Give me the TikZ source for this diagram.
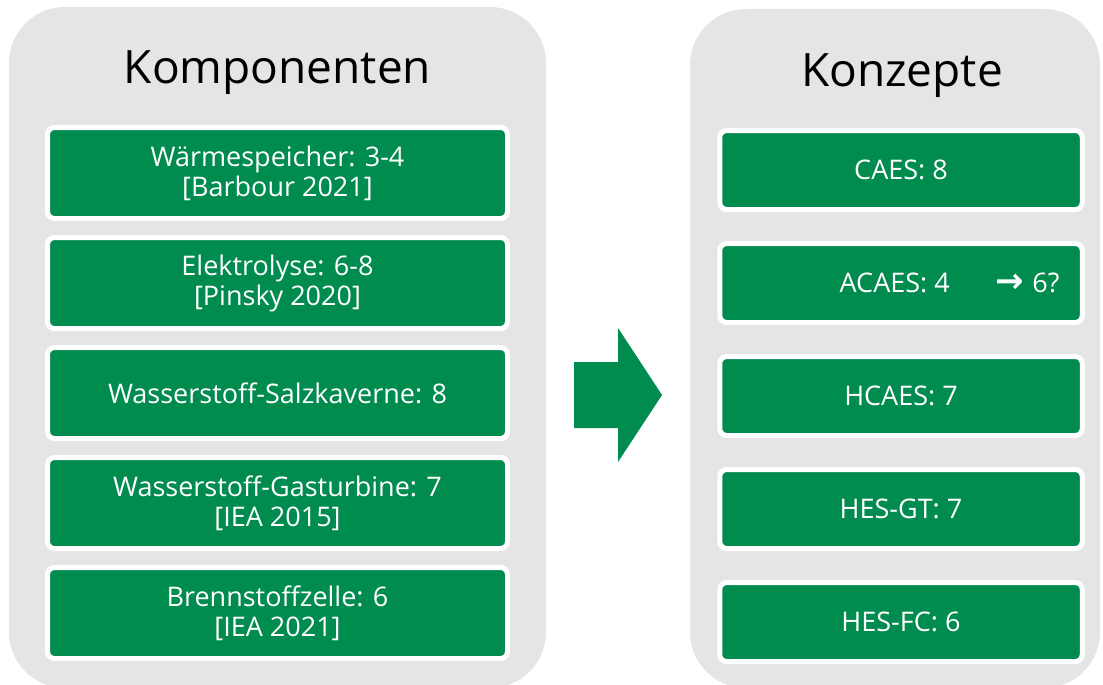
\documentclass[tikz,border=0pt]{standalone}
\usepackage{fontspec}
\setmainfont{Open Sans}
\newfontfamily\arrowfont{DejaVu Sans}
\definecolor{kgreen}{RGB}{0,139,79}
\definecolor{kgray}{RGB}{229,229,229}
\tikzset{
  panel/.style={fill=kgray,rounded corners=56pt},
  kbox/.style={rectangle,rounded corners=7pt,fill=kgreen,draw=white,line width=5pt,
    text=white,align=center,inner sep=0pt,font=\fontsize{27}{30}\selectfont},
  leftbox/.style={kbox,minimum width=460pt,minimum height=91pt},
  rightbox/.style={kbox,minimum width=362.5pt,minimum height=79pt},
  paneltitle/.style={anchor=base,font=\fontsize{46}{50}\selectfont}
}
\begin{document}
\begin{tikzpicture}[x=1pt,y=-1pt]
   \useasboundingbox (0,0) rectangle (1103,685);
   \fill[panel] (9,7) rectangle (546,688);
   \fill[panel] (690,9) rectangle (1100,688);

   \node[paneltitle] (komp) at (277.5,84) {Komponenten};
   \node[paneltitle] (konz) at (902,87) {Konzepte};

   \node[leftbox] (waerme) at (277.5,173) {Wärmespeicher: 3-4\\ {[}Barbour 2021{]}};
   \node[leftbox] (elektro) at (277.5,283) {Elektrolyse: 6-8\\ {[}Pinsky 2020{]}};
   \node[leftbox] (salz) at (277.5,393) {Wasserstoff-Salzkaverne: 8};
   \node[leftbox] (gasturb) at (277.5,503) {Wasserstoff-Gasturbine: 7\\ {[}IEA 2015{]}};
   \node[leftbox] (bzelle) at (277.5,613) {Brennstoffzelle: 6\\ {[}IEA 2021{]}};

   \node[rightbox] (caes) at (901,170) {CAES: 8};
   \node[rightbox] (acaes) at (901,283) {\hspace*{97pt}ACAES: 4\hspace{46pt}{\arrowfont\bfseries\fontsize{34}{30}\selectfont →}\hspace{8pt}6?};
   \node[rightbox] (hcaes) at (901,396) {HCAES: 7};
   \node[rightbox] (hesgt) at (901,509) {HES-GT: 7};
   \node[rightbox] (hesfc) at (901,622) {HES-FC: 6};

   \fill[kgreen] (574,362) -- (618,362) -- (618,328) -- (662,395) -- (618,462) -- (618,428) -- (574,428) -- cycle;
\end{tikzpicture}
\end{document}
